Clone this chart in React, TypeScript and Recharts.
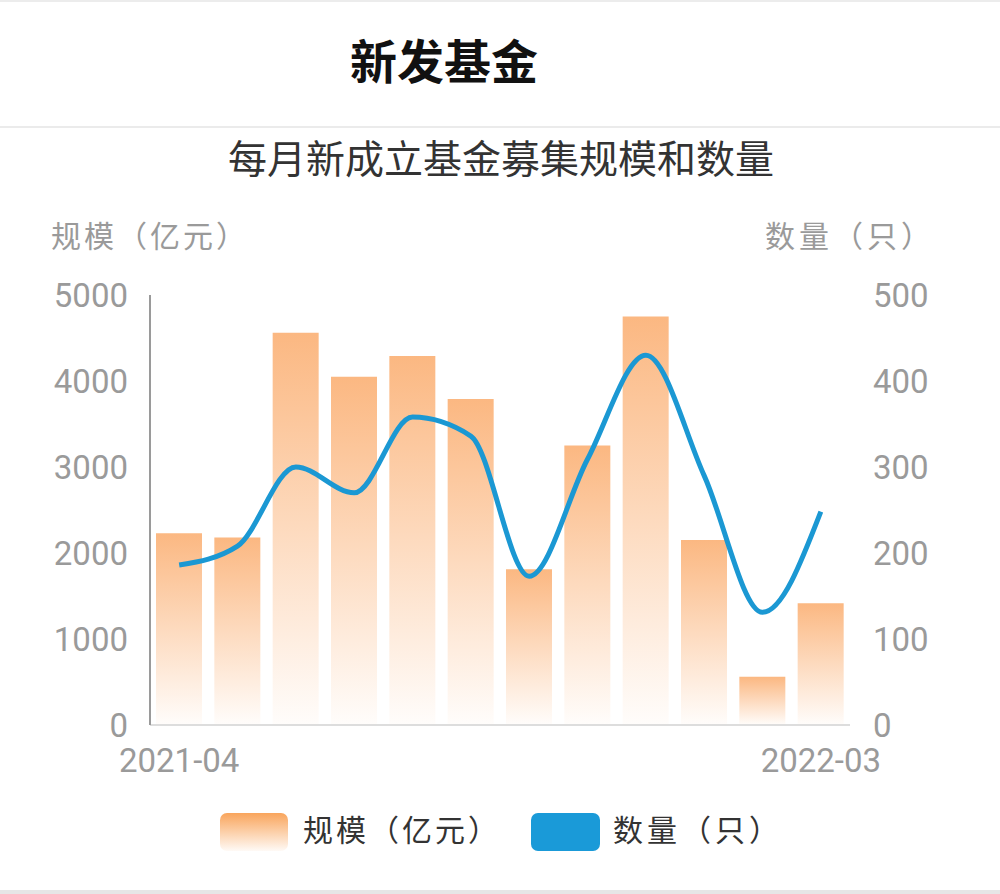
import React from "react";
import { ComposedChart, Bar, Line, XAxis, YAxis } from "recharts";

// 每月新成立基金：募集规模（亿元）与数量（只）
const months = [
  "2021-04", "2021-05", "2021-06", "2021-07", "2021-08", "2021-09",
  "2021-10", "2021-11", "2021-12", "2022-01", "2022-02", "2022-03",
];
const scale = [2230, 2180, 4560, 4050, 4290, 3790, 1810, 3250, 4750, 2150, 560, 1415];
const count = [186, 208, 300, 270, 358, 336, 173, 309, 430, 290, 131, 248];
const leftTicks = [0, 1000, 2000, 3000, 4000, 5000];
const rightTicks = [0, 100, 200, 300, 400, 500];

const data = months.map((m, i) => ({ month: m, scale: scale[i], count: count[i] }));

const FONT = "Roboto, 'Noto Sans CJK SC', sans-serif";
const GRAY = "#9a9a9a";

export default function App() {
  const lastIdx = months.length - 1;
  return (
    <div
      style={{
        position: "absolute",
        left: 0,
        top: 0,
        width: 1000,
        height: 894,
        background: "#fff",
        fontFamily: FONT,
        overflow: "hidden",
      }}
    >
      <div style={{ position: "absolute", left: 0, top: 0, width: 1000, height: 2, background: "#ececec" }} />
      <div
        style={{
          position: "absolute",
          left: 350,
          top: 39,
          fontSize: 47,
          lineHeight: "47px",
          fontWeight: 700,
          color: "#111",
          whiteSpace: "nowrap",
        }}
      >
        新发基金
      </div>
      <div style={{ position: "absolute", left: 0, top: 126, width: 1000, height: 2, background: "#ebebeb" }} />
      <div
        style={{
          position: "absolute",
          left: 0,
          width: 1000,
          top: 141,
          textAlign: "center",
          fontSize: 39,
          lineHeight: "39px",
          color: "#333",
          whiteSpace: "nowrap",
        }}
      >
        <span style={{ marginLeft: 2 }}>每月新成立基金募集规模和数量</span>
      </div>
      <div
        style={{
          position: "absolute",
          left: 51,
          top: 222,
          fontSize: 30,
          lineHeight: "30px",
          letterSpacing: 3,
          color: GRAY,
          whiteSpace: "nowrap",
        }}
      >
        规模（亿元）
      </div>
      <div
        style={{
          position: "absolute",
          left: 765,
          top: 222,
          fontSize: 30,
          lineHeight: "30px",
          letterSpacing: 4,
          color: GRAY,
          whiteSpace: "nowrap",
        }}
      >
        数量（只）
      </div>

      <div style={{ position: "absolute", left: 0, top: 0 }}>
        <ComposedChart
          width={1000}
          height={800}
          data={data}
          margin={{ top: 295, right: 50, bottom: 14, left: 50 }}
        >
          <defs>
            <linearGradient id="barGrad" x1="0" y1="0" x2="0" y2="1">
              <stop offset="0%" stopColor="#fbb47b" stopOpacity={0.95} />
              <stop offset="100%" stopColor="#fbb47b" stopOpacity={0.03} />
            </linearGradient>
          </defs>
          <XAxis
            dataKey="month"
            interval={0}
            tickLine={false}
            tickMargin={18}
            axisLine={{ stroke: "#dddddd", strokeWidth: 2 }}
            tick={{ fontSize: 33, fill: GRAY, fontFamily: FONT }}
            tickFormatter={(v: string, i: number) => (i === 0 || i === lastIdx ? v : "")}
            height={61}
          />
          <YAxis
            yAxisId="left"
            orientation="left"
            domain={[0, 5000]}
            ticks={leftTicks}
            width={100}
            tickLine={false}
            tickMargin={16}
            axisLine={{ stroke: "#9a9a9a", strokeWidth: 2 }}
            tick={{ fontSize: 33, fill: GRAY, fontFamily: FONT }}
          />
          <YAxis
            yAxisId="right"
            orientation="right"
            domain={[0, 500]}
            ticks={rightTicks}
            width={100}
            tickLine={false}
            tickMargin={17}
            axisLine={false}
            tick={{ fontSize: 33, fill: GRAY, fontFamily: FONT, textAnchor: "start" }}
          />
          <Bar
            yAxisId="left"
            dataKey="scale"
            barSize={46}
            fill="url(#barGrad)"
            isAnimationActive={false}
          />
          <Line
            yAxisId="right"
            dataKey="count"
            type="monotone"
            stroke="#1b98d3"
            strokeWidth={5}
            dot={false}
            activeDot={false}
            isAnimationActive={false}
          />
        </ComposedChart>
      </div>

      {/* legend */}
      <div
        style={{
          position: "absolute",
          left: 220,
          top: 813,
          width: 68,
          height: 38,
          borderRadius: 7,
          background: "linear-gradient(to bottom, #f9a55c, rgba(251,190,140,0.08))",
        }}
      />
      <div
        style={{
          position: "absolute",
          left: 303,
          top: 816,
          fontSize: 30,
          lineHeight: "30px",
          letterSpacing: 3,
          color: "#333",
          whiteSpace: "nowrap",
        }}
      >
        规模（亿元）
      </div>
      <div
        style={{
          position: "absolute",
          left: 531,
          top: 813,
          width: 69,
          height: 38,
          borderRadius: 7,
          background: "#1a9ad8",
        }}
      />
      <div
        style={{
          position: "absolute",
          left: 613,
          top: 816,
          fontSize: 30,
          lineHeight: "30px",
          letterSpacing: 4,
          color: "#333",
          whiteSpace: "nowrap",
        }}
      >
        数量（只）
      </div>
      <div style={{ position: "absolute", left: 0, top: 890, width: 1000, height: 4, background: "#e6e6e6" }} />
    </div>
  );
}
